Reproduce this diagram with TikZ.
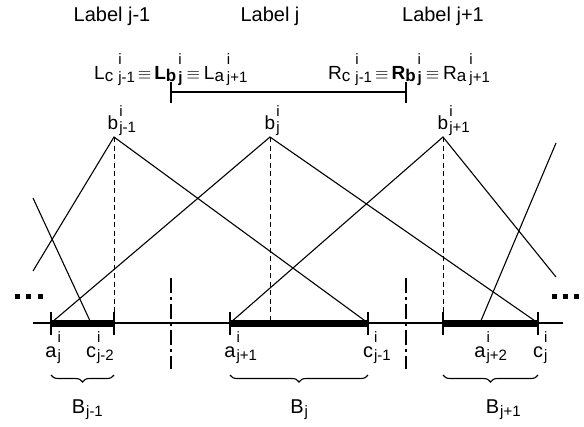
\documentclass[tikz,border=0pt]{standalone}
\usepackage{amsmath}
\usepackage{fontspec}
\setmainfont{Liberation Sans}
\usepackage{tikz}
\usetikzlibrary{
    arrows.meta,
    positioning,
    decorations.pathreplacing,
    calc
}
\tikzstyle{memb} = [line width=1.1pt]
\tikzstyle{interval} = [line width=7pt]
\tikzstyle{peakline} = [line width=1pt, dash pattern=on 5pt off 3.5pt]
\tikzstyle{cutline} = [line width=1.1pt, dash pattern=on 15pt off 4pt on 3pt off 4pt]
\tikzstyle{bracebelow} = [decorate, decoration={brace, mirror, amplitude=7pt}, line width=1.1pt]
\tikzstyle{bound} = [font=\fontsize{20}{24}\selectfont, anchor=base, inner sep=0pt]
\tikzstyle{peak} = [font=\fontsize{19}{23}\selectfont, anchor=base, inner sep=0pt]
\tikzstyle{limit} = [anchor=base west, inner sep=0pt]
% superscript over subscript: sup, sub, size, raise
\newcommand{\supsub}[4]{{\fontsize{#3}{#3}\selectfont\rlap{\raisebox{#4}{#1}}\raisebox{-3pt}{#2}}}
\newcommand{\lowsub}[1]{{\fontsize{17}{17}\selectfont\raisebox{-2pt}{#1}}}
\newcommand{\eqv}{{\fontsize{19}{19}\selectfont$\equiv$}}

\begin{document}
\begin{tikzpicture}[x=1pt,y=-1pt]
\useasboundingbox (0,0) rectangle (584,426);
% points on the axis
\coordinate (axisL) at (33,323);
\coordinate (axisR) at (563,323);
\coordinate (aj) at (51,323);
\coordinate (cjmm) at (91,323);
\coordinate (ajp) at (230,323);
\coordinate (cjm) at (368,323);
\coordinate (ajpp) at (480,323);
\coordinate (cj) at (538,323);
% peaks
\coordinate (bjm) at (114,137);
\coordinate (bj) at (270,137);
\coordinate (bjp) at (443,137);
% free ends of cut lines
\coordinate (endA) at (33,271);
\coordinate (endB) at (33,198);
\coordinate (endC) at (556,277);
\coordinate (endD) at (556,143);
% limits L_b and R_b
\coordinate (lb) at (171,92);
\coordinate (rb) at (406,92);

\node[font=\fontsize{20}{24}\selectfont, anchor=base] (labjm) at (112,21) {Label j-1};
\node[font=\fontsize{20}{24}\selectfont, anchor=base] (labj) at (270,21) {Label j};
\node[font=\fontsize{20}{24}\selectfont, anchor=base] (labjp) at (443,21) {Label j+1};

\node[limit] (leftlim) at (94,79)
  {\fontsize{19}{23}\selectfont L\lowsub{c}\hspace{5pt}\supsub{i}{j-1}{15}{15pt}\hspace{3pt}\eqv\hspace{3pt}\textbf{L\lowsub{\bfseries b}}\hspace{2pt}\supsub{i}{\bfseries j}{15}{15pt}\hspace{4pt}\eqv\hspace{4pt}L\lowsub{a}\hspace{3pt}\supsub{i}{j+1}{15}{15pt}};
\node[limit] (rightlim) at (328,79)
  {\fontsize{19}{23}\selectfont R\lowsub{c}\hspace{5pt}\supsub{i}{j-1}{15}{15pt}\hspace{3pt}\eqv\hspace{3pt}\textbf{R\lowsub{\bfseries b}}\hspace{2pt}\supsub{i}{\bfseries j}{15}{15pt}\hspace{4pt}\eqv\hspace{4pt}R\lowsub{a}\hspace{3pt}\supsub{i}{j+1}{15}{15pt}};
\draw[memb] (lb) -- (rb);
\draw[memb] ($(lb)+(0,-10)$) -- ($(lb)+(0,11)$);
\draw[memb] ($(rb)+(0,-10)$) -- ($(rb)+(0,11)$);

\draw[memb] (axisL) -- (axisR);
\draw[interval] (aj) -- (bjm |- aj);
\draw[interval] (ajp) -- (cjm);
\draw[interval] (bjp |- cj) -- (cj);
\foreach \x in {51,114,230,368,443,538}
  \draw[memb] (\x,312) -- (\x,335);

\draw[memb] (endA) -- (bjm) -- (cjm);
\draw[memb] (aj) -- (bj) -- (cj);
\draw[memb] (ajp) -- (bjp) -- (endC);
\draw[memb] (endB) -- (cjmm);
\draw[memb] (ajpp) -- (endD);

\draw[peakline] (bjm) -- (bjm |- aj);
\draw[peakline] (bj) -- (bj |- aj);
\draw[peakline] (bjp) -- (bjp |- aj);

\draw[cutline] (lb |- 0,278) -- (lb |- 0,369);
\draw[cutline] (rb |- 0,278) -- (rb |- 0,369);

\foreach \x in {15,26,38,552,563,574}
  \fill (\x,294) rectangle ++(5,5);

\node[peak] (nbjm) at (113,129) {b\rlap{\hspace{1pt}\supsub{i}{j-1}{15}{13pt}}};
\node[peak] (nbj) at (270,129) {b\rlap{\hspace{1pt}\supsub{i}{j}{15}{13pt}}};
\node[peak] (nbjp) at (443,129) {b\rlap{\hspace{1pt}\supsub{i}{j+1}{15}{13pt}}};

\node[bound] (naj) at (aj |- 0,357) {a\rlap{\hspace{1pt}\supsub{i}{j}{15}{15pt}}};
\node[bound] (ncjmm) at (cjmm |- 0,357) {c\rlap{\hspace{1pt}\supsub{i}{j-2}{15}{15pt}}};
\node[bound] (najp) at (ajp |- 0,357) {a\rlap{\hspace{1pt}\supsub{i}{j+1}{15}{15pt}}};
\node[bound] (ncjm) at (cjm |- 0,357) {c\rlap{\hspace{1pt}\supsub{i}{j-1}{15}{15pt}}};
\node[bound] (najpp) at (ajpp |- 0,357) {a\rlap{\hspace{1pt}\supsub{i}{j+2}{15}{15pt}}};
\node[bound] (ncj) at (cj |- 0,357) {c\rlap{\hspace{1pt}\supsub{i}{j}{15}{15pt}}};

\draw[bracebelow] (51,375) -- (114,375) coordinate[midway] (mBjm);
\draw[bracebelow] (230,375) -- (368,375) coordinate[midway] (mBj);
\draw[bracebelow] (443,375) -- (538,375) coordinate[midway] (mBjp);
\node[bound] (nBjm) at ($(mBjm |- 0,413)+(-4,0)$) {B\rlap{\hspace{1pt}\supsub{}{j-1}{15}{0pt}}};
\node[bound] (nBj) at ($(mBj |- 0,413)+(-2,0)$) {B\rlap{\hspace{1pt}\supsub{}{j}{15}{0pt}}};
\node[bound] (nBjp) at ($(mBjp |- 0,413)+(2,0)$) {B\rlap{\hspace{1pt}\supsub{}{j+1}{15}{0pt}}};
\end{tikzpicture}
\end{document}
